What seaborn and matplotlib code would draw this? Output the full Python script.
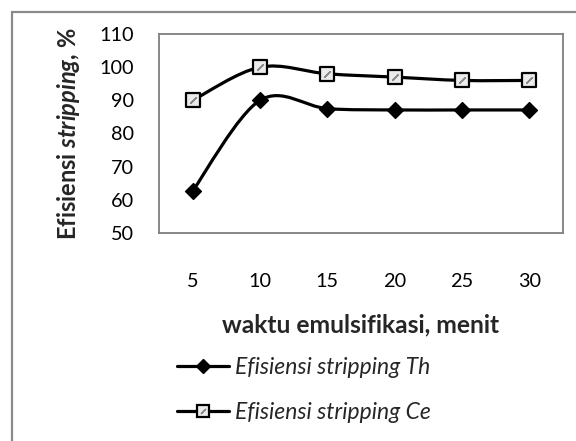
import matplotlib
matplotlib.use("Agg")
import matplotlib.pyplot as plt
from matplotlib.path import Path
from matplotlib.patches import PathPatch
from matplotlib.lines import Line2D
import numpy as np
import pandas as pd
import seaborn as sns

# ----- data
waktu = [5, 10, 15, 20, 25, 30]
eff_th = [62.7, 90, 87.5, 87.1, 87.1, 87.1]
eff_ce = [90, 100, 98, 97, 96, 96]
y_ticks = [50, 60, 70, 80, 90, 100, 110]


def smooth_path(xs, ys):
    # excel-like smoothed line: bezier segments with catmull-rom control points
    pts = np.column_stack([xs, ys]).astype(float)
    n = len(pts)
    verts = [pts[0]]
    codes = [Path.MOVETO]
    for i in range(n - 1):
        p0 = pts[i - 1] if i > 0 else pts[i]
        p1 = pts[i]
        p2 = pts[i + 1]
        p3 = pts[i + 2] if i + 2 < n else pts[i + 1]
        c1 = p1 + (p2 - p0) / 6.0
        c2 = p2 - (p3 - p1) / 6.0
        verts += [c1, c2, p2]
        codes += [Path.CURVE4] * 3
    return Path(verts, codes)


sns.set_style("white")
plt.rcParams["font.family"] = ["Lato", "DejaVu Sans"]
plt.rcParams["mathtext.fontset"] = "custom"
plt.rcParams["mathtext.rm"] = "Lato"
plt.rcParams["mathtext.bf"] = "Lato:bold"
plt.rcParams["mathtext.bfit"] = "Lato:italic:bold"

fig = plt.figure(figsize=(5.76, 4.41), dpi=100)
ax = fig.add_axes([159 / 576, 1 - 233 / 441, 404 / 576, 199 / 441])

pos = list(range(len(waktu)))
df = pd.DataFrame({"pos": pos + pos,
                   "val": eff_th + eff_ce,
                   "seri": ["Th"] * len(pos) + ["Ce"] * len(pos)})

# smoothed lines
for vals in (eff_th, eff_ce):
    ax.add_patch(PathPatch(smooth_path(pos, vals), facecolor="none",
                           edgecolor="black", lw=2.3, zorder=2))

sns.scatterplot(data=df[df.seri == "Th"], x="pos", y="val", ax=ax,
                marker="D", s=65, color="black", edgecolor="black",
                linewidth=1, zorder=3, legend=False)
sns.scatterplot(data=df[df.seri == "Ce"], x="pos", y="val", ax=ax,
                marker="s", s=95, color="#ebebeb", edgecolor="black",
                linewidth=1.6, zorder=3, legend=False)
# diagonal stroke inside the square markers
sns.scatterplot(data=df[df.seri == "Ce"], x="pos", y="val", ax=ax,
                marker=(2, 2, -45), s=35, color="#8c8c8c",
                linewidth=1.0, zorder=4, legend=False)

ax.set_xlim(-0.5, len(waktu) - 0.5)
ax.set_ylim(50, 110)
ax.set_yticks(y_ticks)
ax.set_xticks(pos)
ax.set_xticklabels([str(w) for w in waktu])
ax.tick_params(axis="both", length=0, labelsize=14.3, colors="black")
ax.tick_params(axis="x", pad=29)
ax.tick_params(axis="y", pad=18)
ax.set_xlabel("")
ax.set_ylabel("")
for sp in ax.spines.values():
    sp.set_color("#7f7f7f")
    sp.set_linewidth(1.3)

fig.text(361 / 576, 1 - 325 / 441, "waktu emulsifikasi, menit",
         ha="center", va="center", fontsize=17.7, fontweight="bold")
fig.text(68 / 576, 1 - 134 / 441, r"Efisiensi $\mathbfit{stripping}$, %",
         ha="center", va="center", rotation=90, fontsize=17,
         fontweight="bold")

handles = [
    Line2D([], [], color="black", lw=2.3, marker="D", markersize=7.5,
           markerfacecolor="black"),
    (Line2D([], [], color="black", lw=2.3, marker="s", markersize=8,
            markerfacecolor="#ebebeb", markeredgecolor="black",
            markeredgewidth=1.6),
     Line2D([], [], linestyle="none", marker=(2, 2, -45), markersize=5,
            markeredgecolor="#8c8c8c", markeredgewidth=1.0)),
]
leg = fig.legend(handles, ["Efisiensi stripping Th", "Efisiensi stripping Ce"],
                 loc="upper left", bbox_to_anchor=(156 / 576, 1 - 336 / 441),
                 frameon=False, handlelength=2.27, handletextpad=0.26,
                 labelspacing=1.05, prop={"style": "italic", "size": 16.5})

# outer frame (top and left edges visible)
fig.add_artist(Line2D([12 / 576, 12 / 576], [0, 1 - 12 / 441],
                      transform=fig.transFigure, color="#8a8a8a", lw=1.6))
fig.add_artist(Line2D([12 / 576, 1], [1 - 12 / 441, 1 - 12 / 441],
                      transform=fig.transFigure, color="#8a8a8a", lw=1.6))

fig.savefig("out.png", dpi=100, facecolor="white")
